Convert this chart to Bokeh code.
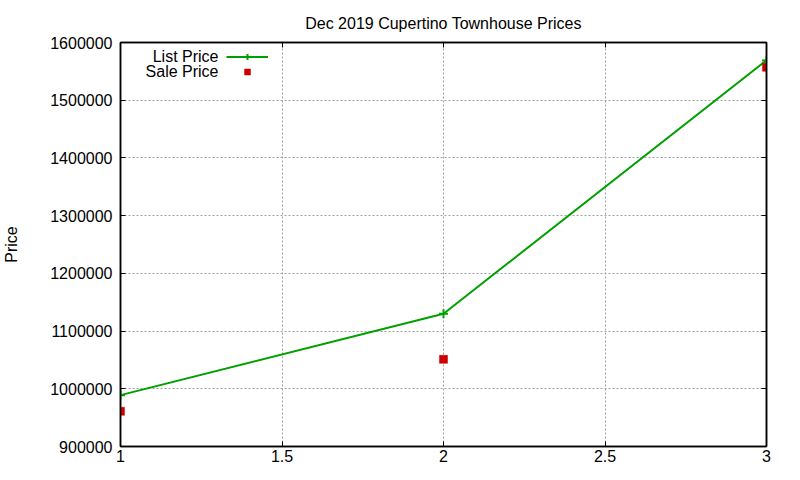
from bokeh.plotting import figure
from bokeh.models import (ColumnDataSource, LinearAxis, Legend, LegendItem, Label,
                          FixedTicker, BasicTickFormatter, Range1d)
from bokeh.core.properties import value
from bokeh.embed import file_html
from bokeh.resources import INLINE

# ---- data ----
title_text = "Dec 2019 Cupertino Townhouse Prices"
y_label = "Price"
x_vals = [1, 2, 3]
list_price = [989000, 1130000, 1569000]
sale_price = [961000, 1051000, 1557000]
list_name = "List Price"
sale_name = "Sale Price"
x_ticks = [1, 1.5, 2, 2.5, 3]
x_tick_labels = ["1", "1.5", "2", "2.5", "3"]
y_ticks = [900000, 1000000, 1100000, 1200000, 1300000, 1400000, 1500000, 1600000]
y_tick_labels = [str(v) for v in y_ticks]

FONT = "Liberation Sans"
FS = "16px"
GREEN = "#00a000"
RED = "#cc0000"

src = ColumnDataSource(dict(x=x_vals, lp=list_price, sp=sale_price))

p = figure(width=784, height=464, output_backend="svg", toolbar_location=None,
           x_range=Range1d(x_ticks[0], x_ticks[-1]),
           y_range=Range1d(y_ticks[0], y_ticks[-1]),
           min_border_left=119, min_border_right=18, min_border_top=42, min_border_bottom=18)

p.title.text = title_text
p.title.align = "center"
p.title.text_font = FONT
p.title.text_font_size = FS
p.title.text_font_style = "normal"
p.title.text_color = "black"
p.title.standoff = 22

p.outline_line_color = "black"
p.outline_line_width = 1.5
p.background_fill_color = "white"
p.border_fill_color = "white"

def style_axis(ax):
    ax.axis_line_color = "black"
    ax.axis_line_width = 1.5
    ax.major_tick_in = 5
    ax.major_tick_out = 0
    ax.major_tick_line_color = "black"
    ax.major_tick_line_width = 1
    ax.minor_tick_line_color = None
    ax.major_label_text_font = FONT
    ax.major_label_text_font_size = FS
    ax.major_label_text_color = "black"

xaxis = p.xaxis[0]
yaxis = p.yaxis[0]
xaxis.ticker = FixedTicker(ticks=x_ticks)
xaxis.major_label_overrides = dict(zip(x_ticks, x_tick_labels))
yaxis.ticker = FixedTicker(ticks=y_ticks)
yaxis.formatter = BasicTickFormatter(use_scientific=False)
yaxis.major_label_overrides = dict(zip(y_ticks, y_tick_labels))
style_axis(xaxis)
style_axis(yaxis)
xaxis.major_label_standoff = 3
yaxis.major_label_standoff = 8
yaxis.axis_label = y_label
yaxis.axis_label_text_font = FONT
yaxis.axis_label_text_font_size = FS
yaxis.axis_label_text_font_style = "normal"
yaxis.axis_label_text_color = "black"
yaxis.axis_label_standoff = 27

# mirrored tick marks (no labels) on top and right
top_axis = LinearAxis(ticker=FixedTicker(ticks=x_ticks))
right_axis = LinearAxis(ticker=FixedTicker(ticks=y_ticks))
for ax, ticks in ((top_axis, x_ticks), (right_axis, y_ticks)):
    style_axis(ax)
    ax.major_label_overrides = {t: "" for t in ticks}
    ax.major_label_text_font_size = "1px"
    ax.major_label_text_color = None
    ax.major_label_standoff = 0
p.add_layout(top_axis, "above")
p.add_layout(right_axis, "right")

p.xgrid.ticker = FixedTicker(ticks=x_ticks[1:-1])
p.ygrid.ticker = FixedTicker(ticks=y_ticks[1:-1])
for g in (p.xgrid[0], p.ygrid[0]):
    g.grid_line_color = "#a0a0a0"
    g.grid_line_dash = "2 2"
    g.grid_line_width = 1

line_r = p.line("x", "lp", source=src, line_color=GREEN, line_width=2)
plus_r = p.scatter("x", "lp", source=src, marker="cross", size=9, line_color=GREEN, line_width=2)
sale_r = p.scatter("x", "sp", source=src, marker="square", size=8,
                   fill_color=RED, line_color=RED, line_width=0.5)

FRAME_H = 401  # approx. frame height in px, used to place the legend from the top
legend = Legend(items=[LegendItem(label=value(""), renderers=[line_r, plus_r]),
                       LegendItem(label=value(""), renderers=[sale_r])],
                location=(106, FRAME_H - 34), orientation="vertical",
                glyph_width=42, glyph_height=15, label_height=15, label_width=0,
                label_standoff=0, spacing=0, padding=0, margin=0,
                label_text_font_size="10px",
                border_line_color=None, background_fill_alpha=0)
p.add_layout(legend, "center")

for txt, dy in ((list_name, 11), (sale_name, 26)):
    p.add_layout(Label(x=98, y=FRAME_H - dy, x_units="screen", y_units="screen", text=txt,
                       text_align="right", text_baseline="middle",
                       text_font=FONT, text_font_size=FS, text_color="black"))

open("out.html", "w").write(file_html(p, INLINE))
